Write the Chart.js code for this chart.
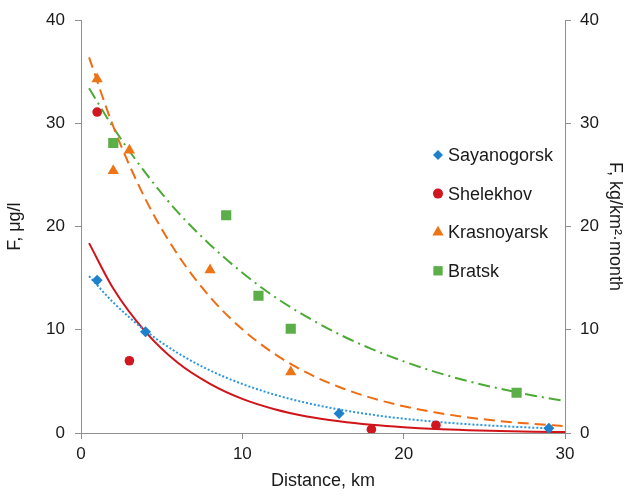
<!DOCTYPE html>
<html>
<head>
<meta charset="utf-8">
<script src="https://cdn.jsdelivr.net/npm/chart.js@4/dist/chart.umd.min.js"></script>
<style>
  html, body { margin: 0; padding: 0; background: #fff; }
  #wrap { width: 630px; height: 496px; }
</style>
</head>
<body>
<div id="wrap"><canvas id="myChart1" width="630" height="496"></canvas></div>
<script>
// measured points (distance km, F)
const sayanogorskX = [1, 4, 16, 29];
const sayanogorskY = [14.8, 9.8, 1.9, 0.45];
const shelekhovX = [1, 3, 18, 22];
const shelekhovY = [31.1, 7.0, 0.35, 0.75];
const krasnoyarskX = [1, 2, 3, 8, 13];
const krasnoyarskY = [34.3, 25.4, 27.4, 15.8, 5.9];
const bratskX = [2, 9, 11, 13, 27];
const bratskY = [28.1, 21.1, 13.3, 10.1, 3.9];

// trend lines
const trendX = [0.5, 2, 4, 6, 8, 10, 12, 14, 16, 18, 20, 22, 24, 26, 28, 30];
const sayanogorskTrendX = [0.5, 2, 4, 6, 8, 10, 12, 14, 16, 18, 20, 22, 24, 26, 28, 29];
const sayanogorskTrend = [15.2, 12.65, 9.9, 7.75, 6.06, 4.75, 3.72, 2.91, 2.28, 1.78, 1.39, 1.09, 0.85, 0.67, 0.52, 0.46];
const shelekhovTrend = [18.4, 14.0, 9.8, 6.8, 4.76, 3.3, 2.3, 1.6, 1.13, 0.79, 0.55, 0.38, 0.27, 0.19, 0.13, 0.09];
const krasnoyarskTrend = [36.4, 29.7, 22.65, 17.27, 13.17, 10.05, 7.66, 5.84, 4.46, 3.4, 2.59, 1.98, 1.51, 1.15, 0.88, 0.67];
const bratskTrend = [33.4, 29.6, 25.2, 21.4, 18.25, 15.53, 13.2, 11.25, 9.57, 8.15, 6.94, 5.9, 5.02, 4.28, 3.64, 3.1];

const xTicks = [0, 10, 20, 30];
const yTicks = [0, 10, 20, 30, 40];

const pts = (xs, ys) => xs.map((x, i) => ({ x: x, y: ys[i] }));

const FONT = "'Liberation Sans', Arial, sans-serif";
const AXIS = "#8f8f8f";

function pointSet(label, xs, ys, color, style, radius, legendRadius) {
  return {
    label: label,
    data: pts(xs, ys),
    backgroundColor: color,
    borderColor: color,
    borderWidth: 0,
    pointStyle: style,
    pointRadius: radius,
    showLine: false,
    isPoints: true,
    legendRadius: legendRadius,
  };
}

function trendSet(xs, ys, color, dash, width) {
  return {
    label: "",
    data: pts(xs, ys),
    borderColor: color,
    borderWidth: width,
    borderDash: dash,
    pointRadius: 0,
    showLine: true,
    cubicInterpolationMode: "monotone",
    fill: false,
  };
}

const data = {
  datasets: [
    pointSet("Sayanogorsk", sayanogorskX, sayanogorskY, "#1f80cc", "rectRot", 5.5, 5),
    pointSet("Shelekhov", shelekhovX, shelekhovY, "#d0161e", "circle", 4.8, 5),
    pointSet("Krasnoyarsk", krasnoyarskX, krasnoyarskY, "#ee7418", "triangle", 6.5, 6.5),
    pointSet("Bratsk", bratskX, bratskY, "#5cae48", "rect", 7.2, 6.6),
    trendSet(sayanogorskTrendX, sayanogorskTrend, "#2a96e0", [2, 2], 2),
    trendSet(trendX, shelekhovTrend, "#d0141a", [], 2),
    trendSet(trendX, krasnoyarskTrend, "#f06c12", [11, 6], 2),
    trendSet(trendX, bratskTrend, "#4caa34", [12, 5, 2, 5], 2),
  ],
};

// legend drawn inside the plot, right side
const insideLegend = {
  id: "insideLegend",
  afterDraw(chart) {
    const ctx = chart.ctx;
    const x0 = 438, y0 = 155, step = 38.6;
    let row = 0;
    chart.data.datasets.forEach((ds) => {
      if (!ds.isPoints) return;
      const y = y0 + row * step;
      ctx.save();
      ctx.fillStyle = ds.backgroundColor;
      ctx.strokeStyle = ds.backgroundColor;
      Chart.helpers.drawPoint(ctx, { pointStyle: ds.pointStyle, radius: ds.legendRadius, rotation: 0, borderWidth: 0 }, x0, y);
      ctx.fillStyle = "#1a1a1a";
      ctx.font = "18px " + FONT;
      ctx.textBaseline = "middle";
      ctx.textAlign = "left";
      ctx.fillText(ds.label, x0 + 10, y + 1);
      ctx.restore();
      row++;
    });
  },
};

const tickFont = { family: FONT, size: 17 };
const titleFont = { family: FONT, size: 18 };

const yAxis = (pos, title, width, pad) => ({
  type: "linear",
  position: pos,
  min: 0,
  max: 40,
  afterBuildTicks: (s) => { s.ticks = yTicks.map((v) => ({ value: v })); },
  afterFit: (s) => { s.width = width; },
  border: { display: true, color: AXIS, width: 1 },
  grid: { drawOnChartArea: false, drawTicks: true, tickLength: 6, color: AXIS },
  ticks: { font: tickFont, color: "#1a1a1a", padding: pad },
  title: { display: true, text: title, font: titleFont, color: "#1a1a1a", padding: { top: 4, bottom: 4 } },
});

const options = {
  responsive: false,
  animation: false,
  layout: { padding: { top: 14, left: 0, right: 0, bottom: 0 } },
  plugins: { legend: { display: false }, tooltip: { enabled: false } },
  scales: {
    x: {
      type: "linear",
      min: 0,
      max: 30,
      afterBuildTicks: (s) => { s.ticks = xTicks.map((v) => ({ value: v })); },
      afterFit: (s) => { s.height = 63; },
      border: { display: true, color: AXIS, width: 1 },
      grid: { drawOnChartArea: false, drawTicks: true, tickLength: 6, color: AXIS },
      ticks: { font: tickFont, color: "#1a1a1a", padding: 5, maxRotation: 0 },
      title: { display: true, text: "Distance, km", font: titleFont, color: "#1a1a1a", padding: { top: 0, bottom: 4 } },
    },
    y: yAxis("left", "F, μg/l", 81, 10),
    y2: yAxis("right", "F, kg/km²·month", 65, 9),
  },
};

const ctx = document.getElementById("myChart1").getContext("2d");
const chart1 = new Chart(ctx, {
  type: "scatter",
  data: data,
  options: options,
  plugins: [insideLegend],
});
</script>
</body>
</html>
